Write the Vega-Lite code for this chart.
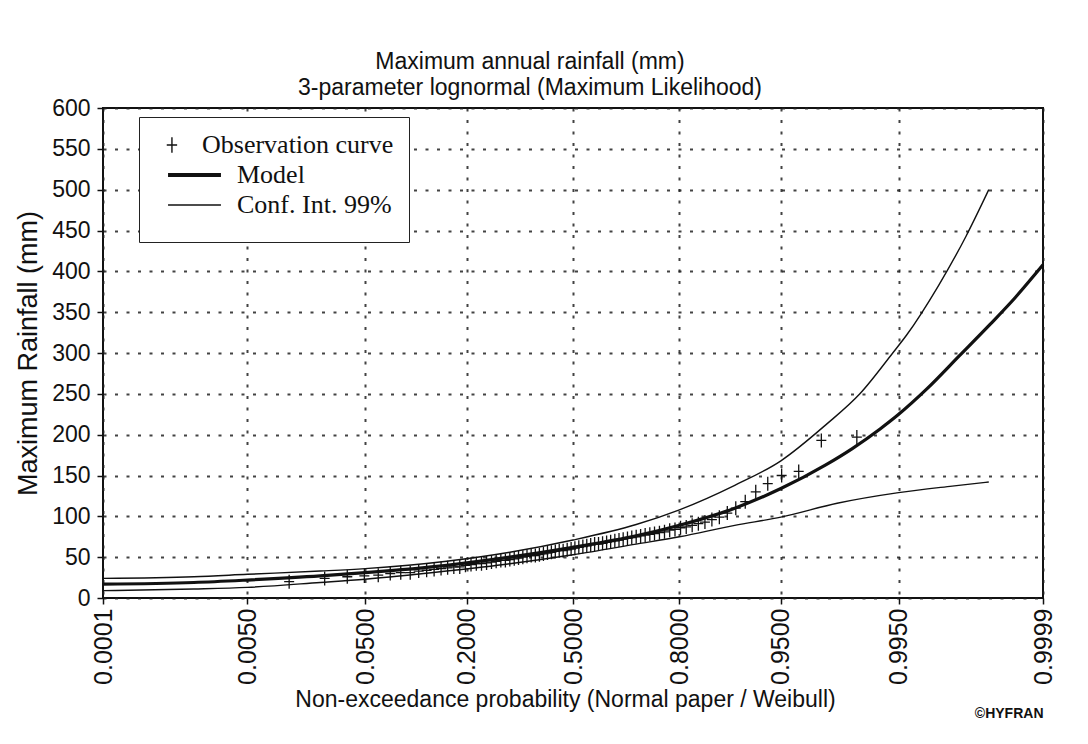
{
  "$schema": "https://vega.github.io/schema/vega-lite/v6.json",
  "width": 940,
  "height": 490,
  "autosize": "none",
  "padding": {"left": 103, "top": 108, "right": 45, "bottom": 146},
  "background": "white",
  "title": {
    "text": "Maximum annual rainfall (mm)",
    "subtitle": "3-parameter lognormal (Maximum Likelihood)",
    "anchor": "middle",
    "dx": -43,
    "offset": -3,
    "font": "Liberation Sans",
    "fontSize": 23,
    "fontWeight": "normal",
    "color": "#111",
    "subtitleFont": "Liberation Sans",
    "subtitleFontSize": 23,
    "subtitleColor": "#111",
    "subtitlePadding": 3
  },
  "datasets": {
    "curves": [
      {"curve": "model", "series": "Model", "z": -3.719, "rain": 17},
      {"curve": "model", "series": "Model", "z": -3.0, "rain": 19},
      {"curve": "model", "series": "Model", "z": -2.576, "rain": 22},
      {"curve": "model", "series": "Model", "z": -2.0, "rain": 27},
      {"curve": "model", "series": "Model", "z": -1.645, "rain": 31},
      {"curve": "model", "series": "Model", "z": -1.0, "rain": 40},
      {"curve": "model", "series": "Model", "z": -0.5, "rain": 50},
      {"curve": "model", "series": "Model", "z": 0.0, "rain": 62},
      {"curve": "model", "series": "Model", "z": 0.5, "rain": 76},
      {"curve": "model", "series": "Model", "z": 0.842, "rain": 89},
      {"curve": "model", "series": "Model", "z": 1.28, "rain": 110},
      {"curve": "model", "series": "Model", "z": 1.645, "rain": 134},
      {"curve": "model", "series": "Model", "z": 2.0, "rain": 163},
      {"curve": "model", "series": "Model", "z": 2.21, "rain": 183},
      {"curve": "model", "series": "Model", "z": 2.43, "rain": 207},
      {"curve": "model", "series": "Model", "z": 2.57, "rain": 224},
      {"curve": "model", "series": "Model", "z": 2.8, "rain": 256},
      {"curve": "model", "series": "Model", "z": 3.06, "rain": 297},
      {"curve": "model", "series": "Model", "z": 3.3, "rain": 335},
      {"curve": "model", "series": "Model", "z": 3.5, "rain": 368},
      {"curve": "model", "series": "Model", "z": 3.719, "rain": 408},
      {"curve": "upper", "series": "Conf. Int. 99%", "z": -3.719, "rain": 24},
      {"curve": "upper", "series": "Conf. Int. 99%", "z": -3.0, "rain": 26},
      {"curve": "upper", "series": "Conf. Int. 99%", "z": -2.576, "rain": 29},
      {"curve": "upper", "series": "Conf. Int. 99%", "z": -2.0, "rain": 33},
      {"curve": "upper", "series": "Conf. Int. 99%", "z": -1.645, "rain": 36},
      {"curve": "upper", "series": "Conf. Int. 99%", "z": -1.0, "rain": 45},
      {"curve": "upper", "series": "Conf. Int. 99%", "z": -0.5, "rain": 56},
      {"curve": "upper", "series": "Conf. Int. 99%", "z": 0.0, "rain": 71},
      {"curve": "upper", "series": "Conf. Int. 99%", "z": 0.5, "rain": 90},
      {"curve": "upper", "series": "Conf. Int. 99%", "z": 0.842, "rain": 108},
      {"curve": "upper", "series": "Conf. Int. 99%", "z": 1.28, "rain": 138},
      {"curve": "upper", "series": "Conf. Int. 99%", "z": 1.645, "rain": 168},
      {"curve": "upper", "series": "Conf. Int. 99%", "z": 2.0, "rain": 212},
      {"curve": "upper", "series": "Conf. Int. 99%", "z": 2.27, "rain": 250},
      {"curve": "upper", "series": "Conf. Int. 99%", "z": 2.53, "rain": 300},
      {"curve": "upper", "series": "Conf. Int. 99%", "z": 2.64, "rain": 322},
      {"curve": "upper", "series": "Conf. Int. 99%", "z": 2.89, "rain": 382},
      {"curve": "upper", "series": "Conf. Int. 99%", "z": 3.11, "rain": 443},
      {"curve": "upper", "series": "Conf. Int. 99%", "z": 3.29, "rain": 500},
      {"curve": "lower", "series": "Conf. Int. 99%", "z": -3.719, "rain": 9},
      {"curve": "lower", "series": "Conf. Int. 99%", "z": -3.0, "rain": 11},
      {"curve": "lower", "series": "Conf. Int. 99%", "z": -2.576, "rain": 13},
      {"curve": "lower", "series": "Conf. Int. 99%", "z": -2.0, "rain": 19},
      {"curve": "lower", "series": "Conf. Int. 99%", "z": -1.645, "rain": 23},
      {"curve": "lower", "series": "Conf. Int. 99%", "z": -1.0, "rain": 33},
      {"curve": "lower", "series": "Conf. Int. 99%", "z": -0.5, "rain": 42},
      {"curve": "lower", "series": "Conf. Int. 99%", "z": 0.0, "rain": 53},
      {"curve": "lower", "series": "Conf. Int. 99%", "z": 0.5, "rain": 66},
      {"curve": "lower", "series": "Conf. Int. 99%", "z": 0.842, "rain": 75},
      {"curve": "lower", "series": "Conf. Int. 99%", "z": 1.28, "rain": 89},
      {"curve": "lower", "series": "Conf. Int. 99%", "z": 1.645, "rain": 99},
      {"curve": "lower", "series": "Conf. Int. 99%", "z": 2.09, "rain": 116},
      {"curve": "lower", "series": "Conf. Int. 99%", "z": 2.576, "rain": 129},
      {"curve": "lower", "series": "Conf. Int. 99%", "z": 3.0, "rain": 137},
      {"curve": "lower", "series": "Conf. Int. 99%", "z": 3.29, "rain": 142}
    ],
    "obs": [
      {"series": "Observation curve", "z": -2.246, "rain": 20},
      {"series": "Observation curve", "z": -1.965, "rain": 24},
      {"series": "Observation curve", "z": -1.786, "rain": 26},
      {"series": "Observation curve", "z": -1.651, "rain": 27},
      {"series": "Observation curve", "z": -1.541, "rain": 28},
      {"series": "Observation curve", "z": -1.446, "rain": 30},
      {"series": "Observation curve", "z": -1.363, "rain": 31},
      {"series": "Observation curve", "z": -1.288, "rain": 31},
      {"series": "Observation curve", "z": -1.221, "rain": 33},
      {"series": "Observation curve", "z": -1.158, "rain": 34},
      {"series": "Observation curve", "z": -1.099, "rain": 35},
      {"series": "Observation curve", "z": -1.044, "rain": 36},
      {"series": "Observation curve", "z": -0.992, "rain": 37},
      {"series": "Observation curve", "z": -0.943, "rain": 38},
      {"series": "Observation curve", "z": -0.896, "rain": 38},
      {"series": "Observation curve", "z": -0.851, "rain": 40},
      {"series": "Observation curve", "z": -0.807, "rain": 41},
      {"series": "Observation curve", "z": -0.765, "rain": 42},
      {"series": "Observation curve", "z": -0.724, "rain": 42},
      {"series": "Observation curve", "z": -0.684, "rain": 43},
      {"series": "Observation curve", "z": -0.645, "rain": 44},
      {"series": "Observation curve", "z": -0.608, "rain": 45},
      {"series": "Observation curve", "z": -0.571, "rain": 46},
      {"series": "Observation curve", "z": -0.535, "rain": 46},
      {"series": "Observation curve", "z": -0.5, "rain": 47},
      {"series": "Observation curve", "z": -0.465, "rain": 48},
      {"series": "Observation curve", "z": -0.431, "rain": 49},
      {"series": "Observation curve", "z": -0.397, "rain": 50},
      {"series": "Observation curve", "z": -0.364, "rain": 51},
      {"series": "Observation curve", "z": -0.331, "rain": 52},
      {"series": "Observation curve", "z": -0.298, "rain": 52},
      {"series": "Observation curve", "z": -0.266, "rain": 53},
      {"series": "Observation curve", "z": -0.234, "rain": 54},
      {"series": "Observation curve", "z": -0.202, "rain": 55},
      {"series": "Observation curve", "z": -0.171, "rain": 56},
      {"series": "Observation curve", "z": -0.14, "rain": 57},
      {"series": "Observation curve", "z": -0.109, "rain": 58},
      {"series": "Observation curve", "z": -0.078, "rain": 58},
      {"series": "Observation curve", "z": -0.046, "rain": 59},
      {"series": "Observation curve", "z": -0.015, "rain": 60},
      {"series": "Observation curve", "z": 0.015, "rain": 61},
      {"series": "Observation curve", "z": 0.046, "rain": 62},
      {"series": "Observation curve", "z": 0.078, "rain": 63},
      {"series": "Observation curve", "z": 0.109, "rain": 64},
      {"series": "Observation curve", "z": 0.14, "rain": 65},
      {"series": "Observation curve", "z": 0.171, "rain": 66},
      {"series": "Observation curve", "z": 0.202, "rain": 66},
      {"series": "Observation curve", "z": 0.234, "rain": 67},
      {"series": "Observation curve", "z": 0.266, "rain": 68},
      {"series": "Observation curve", "z": 0.298, "rain": 69},
      {"series": "Observation curve", "z": 0.331, "rain": 70},
      {"series": "Observation curve", "z": 0.364, "rain": 71},
      {"series": "Observation curve", "z": 0.397, "rain": 72},
      {"series": "Observation curve", "z": 0.431, "rain": 73},
      {"series": "Observation curve", "z": 0.465, "rain": 74},
      {"series": "Observation curve", "z": 0.5, "rain": 75},
      {"series": "Observation curve", "z": 0.535, "rain": 76},
      {"series": "Observation curve", "z": 0.571, "rain": 77},
      {"series": "Observation curve", "z": 0.608, "rain": 78},
      {"series": "Observation curve", "z": 0.645, "rain": 79},
      {"series": "Observation curve", "z": 0.684, "rain": 80},
      {"series": "Observation curve", "z": 0.724, "rain": 81},
      {"series": "Observation curve", "z": 0.765, "rain": 83},
      {"series": "Observation curve", "z": 0.807, "rain": 84},
      {"series": "Observation curve", "z": 0.851, "rain": 86},
      {"series": "Observation curve", "z": 0.896, "rain": 87},
      {"series": "Observation curve", "z": 0.943, "rain": 89},
      {"series": "Observation curve", "z": 0.992, "rain": 91},
      {"series": "Observation curve", "z": 1.044, "rain": 93},
      {"series": "Observation curve", "z": 1.099, "rain": 96},
      {"series": "Observation curve", "z": 1.158, "rain": 99},
      {"series": "Observation curve", "z": 1.221, "rain": 104},
      {"series": "Observation curve", "z": 1.288, "rain": 110},
      {"series": "Observation curve", "z": 1.363, "rain": 118},
      {"series": "Observation curve", "z": 1.446, "rain": 130},
      {"series": "Observation curve", "z": 1.541, "rain": 140},
      {"series": "Observation curve", "z": 1.651, "rain": 150},
      {"series": "Observation curve", "z": 1.786, "rain": 155},
      {"series": "Observation curve", "z": 1.965, "rain": 193},
      {"series": "Observation curve", "z": 2.246, "rain": 197}
    ]
  },
  "layer": [
    {
      "data": {"name": "curves"},
      "transform": [{"filter": "datum.series === 'Conf. Int. 99%'"}],
      "mark": {"type": "line", "interpolate": "monotone", "strokeWidth": 1.4},
      "encoding": {
        "x": {
          "field": "z",
          "type": "quantitative",
          "scale": {"domain": [-3.719, 3.719], "nice": false, "zero": false},
          "axis": {
            "orient": "bottom",
            "values": [-3.719, -2.5758, -1.6449, -0.8416, 0, 0.8416, 1.6449, 2.5758, 3.719],
            "labelExpr": "datum.value < -3 ? '0.0001' : datum.value < -2 ? '0.0050' : datum.value < -1 ? '0.0500' : datum.value < -0.5 ? '0.2000' : datum.value < 0.5 ? '0.5000' : datum.value < 1 ? '0.8000' : datum.value < 2 ? '0.9500' : datum.value < 3 ? '0.9950' : '0.9999'",
            "labelAngle": -90,
            "labelFontSize": 25,
            "labelPadding": 4,
            "labelBound": false,
            "labelFlush": false,
            "labelOverlap": false,
            "title": "Non-exceedance probability (Normal paper / Weibull)",
            "titleFontSize": 23,
            "titleX": 462,
            "titlePadding": 4
          }
        },
        "y": {
          "field": "rain",
          "type": "quantitative",
          "scale": {"domain": [0, 600], "nice": false},
          "axis": {
            "values": [0, 50, 100, 150, 200, 250, 300, 350, 400, 450, 500, 550, 600],
            "labelFontSize": 23,
            "labelPadding": 7,
            "title": "Maximum Rainfall  (mm)",
            "titleFontSize": 27,
            "titlePadding": 9
          }
        },
        "detail": {"field": "curve"},
        "color": {
          "field": "series",
          "type": "nominal",
          "scale": {"domain": ["Observation curve", "Model", "Conf. Int. 99%"], "range": ["#111", "#111", "#111"]},
          "legend": {
            "orient": "none",
            "legendX": 36,
            "legendY": 9,
            "title": " ",
            "titleOrient": "bottom",
            "titleFontSize": 8,
            "titlePadding": 1,
            "labelLimit": 400,
            "encode": {
              "symbols": {
                "update": {
                  "shape": {"signal": "datum.value === 'Observation curve' ? 'M-0.02,0L0.78,0M0.38,-0.6L0.38,0.6' : 'M0.08,0L4.15,0'"},
                  "strokeWidth": {"signal": "datum.value === 'Model' ? 4 : 1.4"},
                  "fill": {"value": "transparent"},
                  "stroke": {"value": "#111"},
                  "opacity": {"value": 1}
                }
              },
              "labels": {
                "update": {
                  "dx": {"signal": "datum.value === 'Observation curve' ? 0 : 35"}
                }
              }
            }
          }
        }
      }
    },
    {
      "data": {"name": "curves"},
      "transform": [{"filter": "datum.series === 'Model'"}],
      "mark": {"type": "line", "interpolate": "monotone", "strokeWidth": 3.2},
      "encoding": {
        "x": {"field": "z", "type": "quantitative", "axis": null},
        "y": {"field": "rain", "type": "quantitative"},
        "color": {"field": "series", "type": "nominal"}
      }
    },
    {
      "data": {"name": "obs"},
      "mark": {"type": "point", "shape": "M-1,0L1,0M0,-1.4L0,1.4", "filled": false, "size": 100, "strokeWidth": 1.3, "opacity": 1},
      "encoding": {
        "x": {
          "field": "z",
          "type": "quantitative",
          "axis": {
            "orient": "bottom",
            "grid": false,
            "domain": false,
            "ticks": false,
            "labels": false,
            "title": "©HYFRAN",
            "titleFontSize": 14,
            "titleFontWeight": "bold",
            "titleAnchor": "end",
            "titlePadding": 108
          }
        },
        "y": {"field": "rain", "type": "quantitative"},
        "color": {"field": "series", "type": "nominal"}
      }
    }
  ],
  "resolve": {"axis": {"x": "independent"}},
  "config": {
    "view": {"stroke": "#111", "strokeWidth": 2},
    "font": "Liberation Sans",
    "axis": {
      "domain": false,
      "grid": true,
      "gridColor": "#222",
      "gridDash": [3, 8.5],
      "gridWidth": 2,
      "gridOpacity": 0.85,
      "tickColor": "#111",
      "tickSize": 6,
      "tickWidth": 1.5,
      "labelFont": "Liberation Sans",
      "labelFontSize": 20,
      "labelColor": "#111",
      "labelPadding": 6,
      "titleFont": "Liberation Sans",
      "titleFontSize": 22,
      "titleFontWeight": "normal",
      "titleColor": "#111"
    },
    "legend": {
      "strokeColor": "#222",
      "fillColor": "white",
      "padding": 15,
      "labelFont": "Liberation Serif",
      "labelFontSize": 26,
      "labelColor": "#111",
      "labelOffset": 22,
      "symbolSize": 676,
      "rowPadding": 4,
      "titleFont": "Liberation Serif"
    }
  }
}
